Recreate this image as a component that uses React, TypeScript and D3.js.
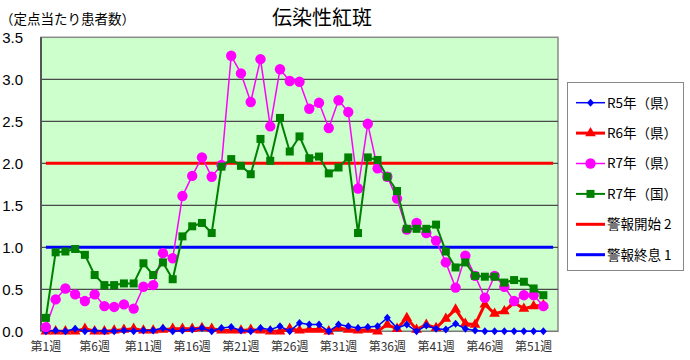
import React from "react";
import * as d3 from "d3";

const weeks: number[] = d3.range(1, 54);
const tickWeeks = [1, 6, 11, 16, 21, 26, 31, 36, 41, 46, 51];
const tickLabels = ["第1週", "第6週", "第11週", "第16週", "第21週", "第26週", "第31週", "第36週", "第41週", "第46週", "第51週"];
const yTicks = [0, 0.5, 1.0, 1.5, 2.0, 2.5, 3.0, 3.5];

const r5Ken = [0.0, 0.01, 0.0, 0.03, 0.0, 0.01, 0.0, 0.0, 0.01, 0.0, 0.01, 0.01, 0.04, 0.0, 0.01, 0.02, 0.04, 0.0, 0.04, 0.05, 0.01, 0.0, 0.04, 0.02, 0.06, 0.0, 0.1, 0.08, 0.08, 0.0, 0.08, 0.06, 0.04, 0.05, 0.06, 0.16, 0.04, 0.08, 0.0, 0.07, 0.03, 0.02, 0.09, 0.03, 0.01, 0, 0, 0, 0, 0, 0, 0];
const r6Ken = [0, 0, 0, 0, 0.03, 0, 0, 0.01, 0.02, 0.03, 0.01, 0.01, 0.02, 0.03, 0.03, 0.03, 0.04, 0.03, 0.01, 0.01, 0.01, 0.02, 0.01, 0, 0, 0.03, 0.01, 0.02, 0.02, 0, 0.04, 0.02, 0.01, 0.02, 0, 0.08, 0.03, 0.16, 0.02, 0.08, 0.04, 0.15, 0.26, 0.09, 0.08, 0.32, 0.21, 0.24, 0.34, 0.27, 0.3, 0.31];
const r7Ken = [0.05, 0.38, 0.51, 0.44, 0.36, 0.44, 0.30, 0.29, 0.32, 0.27, 0.53, 0.55, 0.93, 0.87, 1.61, 1.85, 2.07, 1.84, 1.98, 3.28, 3.07, 2.73, 3.24, 2.44, 3.12, 2.98, 2.97, 2.65, 2.72, 2.42, 2.75, 2.61, 1.70, 2.47, 1.94, 1.84, 1.58, 1.21, 1.29, 1.17, 1.08, 0.82, 0.52, 0.90, 0.66, 0.40, 0.66, 0.53, 0.36, 0.43, 0.43, 0.30];
const r7Kuni = [0.16, 0.94, 0.95, 0.98, 0.91, 0.67, 0.55, 0.55, 0.57, 0.57, 0.81, 0.67, 0.82, 0.62, 1.13, 1.25, 1.29, 1.17, 1.96, 2.05, 1.97, 1.87, 2.29, 2.03, 2.54, 2.14, 2.32, 2.06, 2.08, 1.88, 1.95, 2.07, 1.17, 2.07, 2.04, 1.84, 1.67, 1.22, 1.22, 1.22, 1.27, 0.95, 0.76, 0.82, 0.66, 0.65, 0.65, 0.58, 0.61, 0.59, 0.51, 0.43];
const alarmStart = 2;
const alarmEnd = 1;

const JP = "'Noto Sans CJK JP', 'Noto Sans', sans-serif";
const NUM = "'Liberation Sans', Arial, sans-serif";

const L = 41, R = 558, T = 37.3, B = 331.3;

type Marker = "diamond" | "triangle" | "circle" | "square" | "none";

function markerPath(kind: Marker, cx: number, cy: number, key: string, color: string) {
  if (kind === "circle") return <circle key={key} cx={cx} cy={cy} r={5.2} fill={color} />;
  if (kind === "square") return <rect key={key} x={cx - 4} y={cy - 4} width={8} height={8} fill={color} />;
  if (kind === "triangle") {
    const s = d3.symbol(d3.symbolTriangle, 50)();
    return <path key={key} d={s || ""} transform={`translate(${cx},${cy})`} fill={color} />;
  }
  if (kind === "diamond") {
    return <path key={key} d={`M${cx},${cy - 4}L${cx + 3.5},${cy}L${cx},${cy + 4}L${cx - 3.5},${cy}Z`} fill={color} />;
  }
  return null;
}

export default function App() {
  const x = d3.scaleBand<number>().domain(weeks).range([L, R]);
  const cx = (w: number) => (x(w) as number) + x.bandwidth() / 2;
  const y = d3.scaleLinear().domain([0, 3.5]).range([B, T]);
  const line = d3.line<number>().x((_, i) => cx(weeks[i])).y((v) => y(v));

  const series = [
    { name: "R5年（県）", data: r5Ken, color: "#0000ff", width: 1.5, marker: "diamond" as Marker },
    { name: "R6年（県）", data: r6Ken, color: "#ff0000", width: 3, marker: "triangle" as Marker },
    { name: "R7年（県）", data: r7Ken, color: "#ff00ff", width: 1.5, marker: "circle" as Marker },
    { name: "R7年（国）", data: r7Kuni, color: "#008000", width: 2, marker: "square" as Marker },
  ];
  const legend = [
    ...series,
    { name: "警報開始 2", data: [], color: "#ff0000", width: 3, marker: "none" as Marker },
    { name: "警報終息 1", data: [], color: "#0000ff", width: 3, marker: "none" as Marker },
  ];
  const drawOrder = [series[1], series[0], series[2], series[3]];

  return (
    <svg width={690} height={360} style={{ display: "block", position: "absolute", left: 0, top: 0 }}>
      <rect x={0} y={0} width={690} height={360} fill="#ffffff" />
      <text x={322} y={25} textAnchor="middle" fontFamily={JP} fontSize={20} fill="#000">伝染性紅斑</text>
      <text x={0} y={24} fontFamily={JP} fontSize={13.5} fill="#000">（定点当たり患者数）</text>

      <rect x={L} y={T} width={R - L} height={B - T} fill="#ccffcc" stroke="#8a8a8a" strokeWidth={1.5} />
      {yTicks.filter((t) => t > 0 && t < 3.5).map((t) => (
        <line key={t} x1={L} x2={R} y1={y(t)} y2={y(t)} stroke="#4a4a4a" strokeWidth={1.2} />
      ))}
      <line x1={L} x2={L} y1={T} y2={B} stroke="#555" strokeWidth={2} />
      <line x1={L} x2={R} y1={B} y2={B} stroke="#777" strokeWidth={1} />
      {yTicks.map((t) => (
        <text key={t} x={23} y={y(t)} dy="0.36em" textAnchor="end" fontFamily={NUM} fontSize={15} fill="#000">{t.toFixed(1)}</text>
      ))}
      {tickWeeks.map((w, i) => (
        <text key={w} x={cx(w)} y={351} textAnchor="middle" fontFamily={JP} fontSize={12} fill="#333">{tickLabels[i]}</text>
      ))}

      <line x1={cx(weeks[0])} x2={cx(weeks[weeks.length - 1])} y1={y(alarmStart)} y2={y(alarmStart)} stroke="#ff0000" strokeWidth={3} />
      <line x1={cx(weeks[0])} x2={cx(weeks[weeks.length - 1])} y1={y(alarmEnd)} y2={y(alarmEnd)} stroke="#0000ff" strokeWidth={3} />

      {drawOrder.map((s) => (
        <g key={s.name}>
          <path d={line(s.data) || ""} fill="none" stroke={s.color} strokeWidth={s.width} strokeLinejoin="round" />
          {s.data.map((v, i) => markerPath(s.marker, cx(weeks[i]), y(v), `${s.name}-${i}`, s.color))}
        </g>
      ))}

      <rect x={567.5} y={82.5} width={116} height={188} fill="#fff" stroke="#888" strokeWidth={1} />
      {legend.map((s, i) => {
        const ly = 102.7 + i * 30.4;
        return (
          <g key={s.name}>
            <line x1={576} x2={605} y1={ly} y2={ly} stroke={s.color} strokeWidth={s.width} />
            {markerPath(s.marker, 590.5, ly, `lg-${i}`, s.color)}
            <text x={607} y={ly} dy="0.36em" fontFamily={JP} fontSize={13.5} fill="#000">{s.name}</text>
          </g>
        );
      })}
    </svg>
  );
}
